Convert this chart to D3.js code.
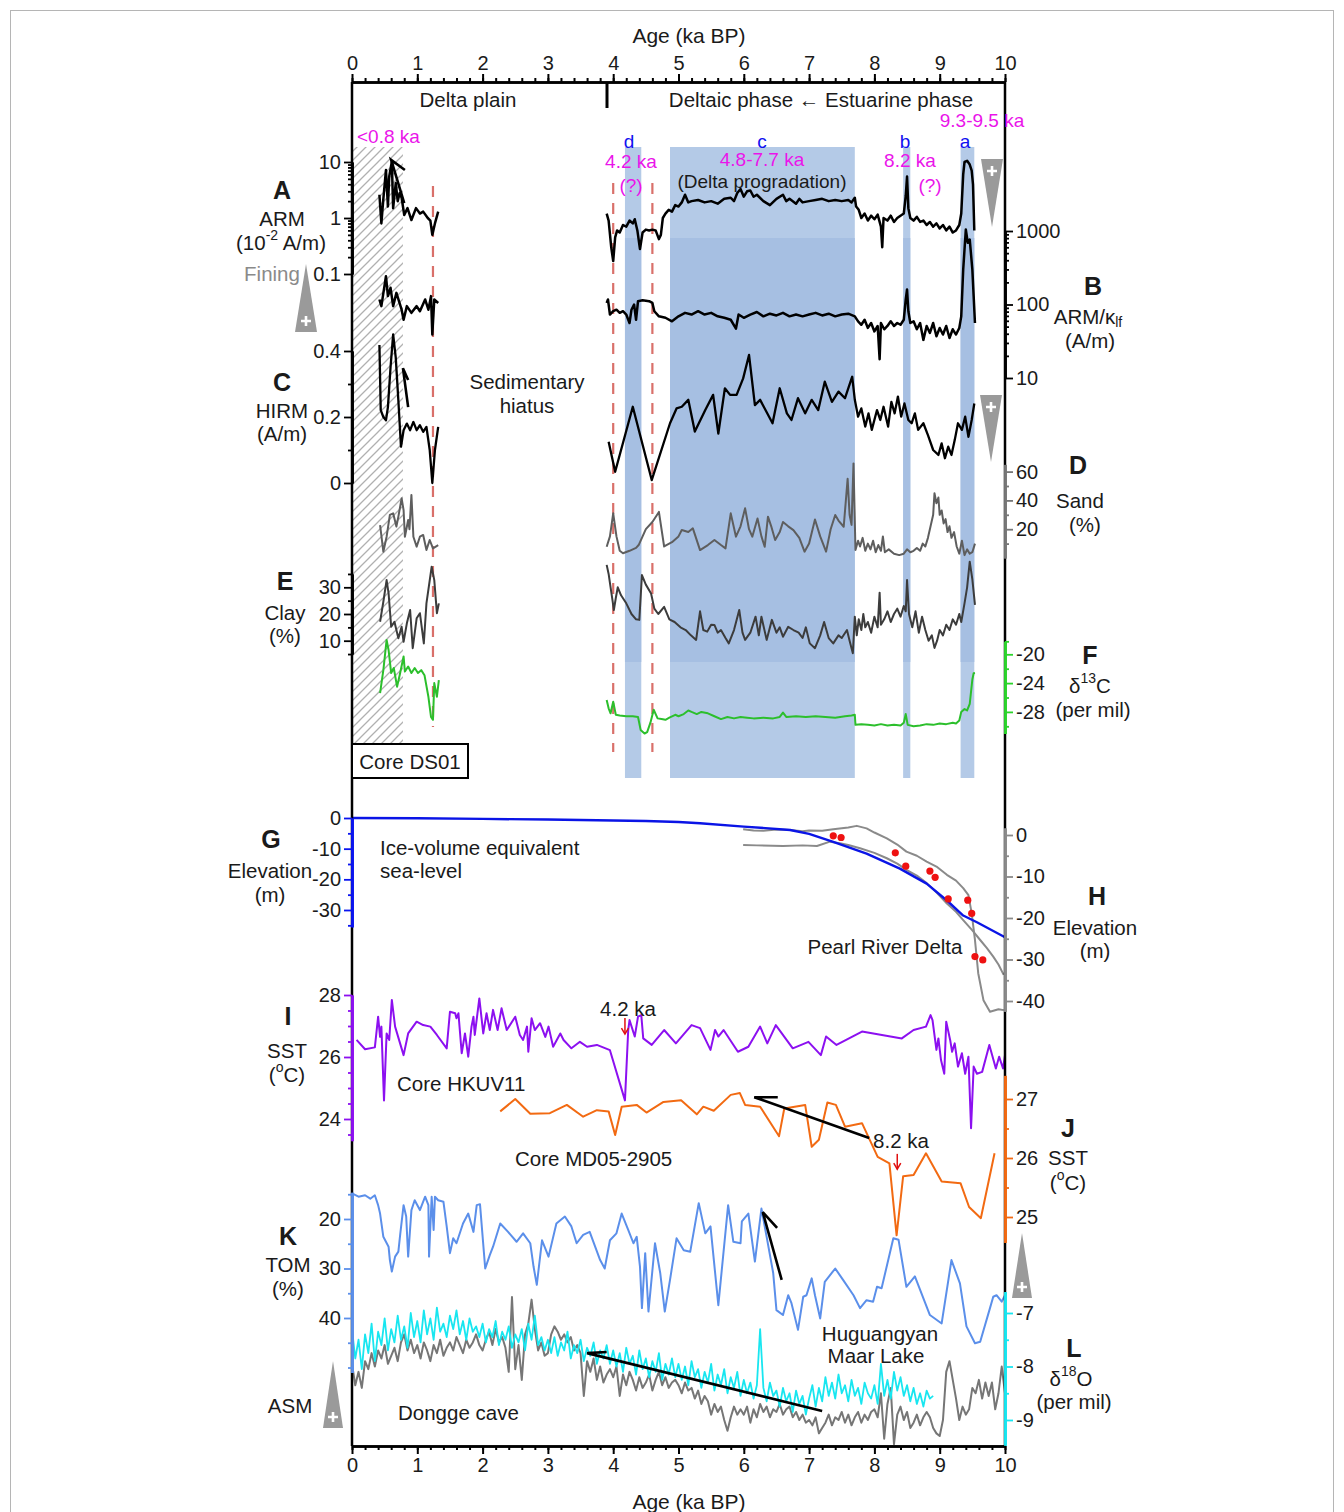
<!DOCTYPE html>
<html>
<head>
<meta charset="utf-8">
<script src="https://cdn.jsdelivr.net/npm/d3@7"></script>
<style>
  body { margin: 0; background: #fff; }
</style>
</head>
<body>
<svg id="chart" width="1344" height="1512"></svg>
<script>
// ---- data (age in ka BP, value in the panel's own unit) ----
const ageMajor = [0,1,2,3,4,5,6,7,8,9,10];

// A: ARM (10^-2 A/m), core DS01
const armTop = [[0.42,2.6],[0.45,0.8],[0.48,2.2],[0.52,7.2],[0.55,1.6],[0.57,5.5],[0.61,10.1],[0.63,1.5],[0.67,4.2],[0.7,2.0],[0.73,2.8],[0.76,2.3],[0.8,1.13],[0.85,1.5],[0.91,0.92],[0.98,1.5],[1.04,1.2],[1.09,1.3],[1.16,1.0],[1.2,0.9],[1.23,0.5],[1.27,0.8],[1.32,1.3]];
const armMain = [[3.9,1.2],[3.93,0.9],[3.97,0.3],[4.0,0.17],[4.03,0.45],[4.06,0.6],[4.1,0.55],[4.15,0.75],[4.2,0.7],[4.25,0.9],[4.3,0.8],[4.33,0.95],[4.37,0.6],[4.41,0.28],[4.45,0.55],[4.5,0.62],[4.55,0.6],[4.6,0.62],[4.65,0.6],[4.7,0.42],[4.73,0.5],[4.76,1.0],[4.8,1.2],[4.85,1.4],[4.9,1.3],[4.95,1.7],[5.0,1.6],[5.05,1.9],[5.1,2.6],[5.15,1.9],[5.2,2.0],[5.3,2.1],[5.4,1.9],[5.5,2.0],[5.6,1.8],[5.7,2.2],[5.8,2.3],[5.85,2.0],[5.9,2.8],[5.95,3.3],[6.0,2.4],[6.05,3.0],[6.1,3.1],[6.15,2.4],[6.2,2.6],[6.3,2.0],[6.4,1.7],[6.5,2.2],[6.6,2.6],[6.65,2.0],[6.7,2.2],[6.8,1.8],[6.85,2.2],[6.9,1.9],[7.0,2.0],[7.1,2.1],[7.2,2.2],[7.3,2.0],[7.4,2.1],[7.5,2.0],[7.6,2.1],[7.65,1.9],[7.7,2.3],[7.72,1.6],[7.76,1.4],[7.8,1.0],[7.85,1.2],[7.9,0.9],[7.95,1.1],[8.0,0.95],[8.05,1.15],[8.1,0.7],[8.12,0.3],[8.14,1.0],[8.2,0.9],[8.25,1.1],[8.3,0.85],[8.35,1.0],[8.4,1.1],[8.45,1.2],[8.48,2.5],[8.5,5.5],[8.52,1.5],[8.55,1.0],[8.6,0.9],[8.65,1.05],[8.7,0.85],[8.75,0.9],[8.8,0.75],[8.85,0.85],[8.9,0.7],[8.95,0.8],[9.0,0.65],[9.05,0.75],[9.1,0.6],[9.15,0.7],[9.2,0.55],[9.25,0.6],[9.3,0.75],[9.33,1.2],[9.36,6],[9.38,10],[9.42,10.5],[9.46,9],[9.49,7],[9.51,4],[9.53,0.6]];

// B: ARM/klf (A/m)
const armkTop = [[0.42,117],[0.45,95],[0.52,243],[0.55,130],[0.59,169],[0.63,95],[0.68,144],[0.76,85],[0.79,62],[0.84,95],[0.91,77],[0.99,95],[1.04,81],[1.12,117],[1.17,85],[1.21,130],[1.23,39],[1.26,117],[1.32,105]];
const armkMain = [[3.9,105],[3.92,117],[3.95,73],[4.0,81],[4.05,85],[4.1,77],[4.15,81],[4.2,73],[4.25,56],[4.28,85],[4.32,100],[4.35,62],[4.38,111],[4.45,114],[4.55,111],[4.6,105],[4.63,81],[4.7,69],[4.8,66],[4.9,59],[5.0,69],[5.1,77],[5.2,73],[5.3,81],[5.4,73],[5.5,77],[5.6,69],[5.7,66],[5.8,62],[5.88,47],[5.92,73],[6.0,66],[6.1,73],[6.2,79],[6.3,69],[6.4,75],[6.5,71],[6.6,77],[6.7,69],[6.8,73],[6.9,69],[7.0,73],[7.1,77],[7.2,71],[7.3,75],[7.4,69],[7.5,73],[7.6,75],[7.7,69],[7.75,59],[7.8,53],[7.85,62],[7.9,48],[7.95,56],[8.0,43],[8.05,51],[8.08,18],[8.1,56],[8.15,46],[8.2,51],[8.25,59],[8.3,51],[8.35,56],[8.4,53],[8.45,62],[8.48,117],[8.5,160],[8.52,81],[8.55,56],[8.6,59],[8.65,46],[8.7,56],[8.75,33],[8.8,51],[8.85,41],[8.9,56],[8.95,37],[9.0,48],[9.05,39],[9.1,51],[9.15,35],[9.2,46],[9.25,39],[9.3,48],[9.33,69],[9.36,299],[9.4,1047],[9.43,690],[9.46,767],[9.5,299],[9.52,130],[9.54,56]];

// C: HIRM (A/m)
const hirmTop = [[0.42,0.418],[0.44,0.221],[0.48,0.2],[0.52,0.19],[0.55,0.23],[0.59,0.35],[0.63,0.45],[0.67,0.38],[0.71,0.25],[0.75,0.11],[0.79,0.16],[0.84,0.18],[0.89,0.16],[0.94,0.185],[0.99,0.16],[1.04,0.175],[1.09,0.155],[1.14,0.17],[1.19,0.1],[1.23,0.0],[1.27,0.1],[1.32,0.17]];
const hirmMain = [[3.93,0.125],[4.03,0.034],[4.3,0.231],[4.59,0.009],[4.87,0.181],[4.97,0.226],[5.05,0.231],[5.15,0.252],[5.25,0.156],[5.41,0.221],[5.53,0.267],[5.61,0.15],[5.71,0.287],[5.79,0.267],[5.89,0.267],[5.99,0.317],[6.08,0.388],[6.17,0.236],[6.25,0.252],[6.32,0.226],[6.44,0.181],[6.55,0.287],[6.66,0.211],[6.73,0.191],[6.83,0.257],[6.94,0.211],[7.04,0.252],[7.14,0.221],[7.24,0.307],[7.35,0.246],[7.45,0.277],[7.55,0.257],[7.66,0.322],[7.7,0.252],[7.75,0.201],[7.8,0.226],[7.86,0.171],[7.91,0.211],[7.96,0.161],[8.04,0.221],[8.09,0.191],[8.14,0.231],[8.21,0.171],[8.26,0.246],[8.31,0.211],[8.36,0.262],[8.41,0.201],[8.46,0.241],[8.52,0.191],[8.57,0.181],[8.62,0.211],[8.67,0.161],[8.75,0.181],[8.82,0.145],[8.9,0.1],[8.98,0.085],[9.03,0.12],[9.08,0.075],[9.13,0.11],[9.18,0.085],[9.23,0.13],[9.28,0.181],[9.34,0.161],[9.39,0.201],[9.44,0.14],[9.49,0.191],[9.53,0.241]];

// D: sand (%)
const sandTop = [[0.43,22.9],[0.48,4.4],[0.53,14.8],[0.58,29.9],[0.63,31],[0.68,21.8],[0.71,28.7],[0.76,41.4],[0.79,33.3],[0.81,14.8],[0.86,26.4],[0.88,20],[0.91,43.8],[0.94,14.8],[0.99,7.9],[1.04,14.8],[1.09,16],[1.14,5.6],[1.19,12.5],[1.24,6.7],[1.32,9]];
const sandMain = [[3.9,7.8],[3.95,15],[4.0,31],[4.05,15],[4.1,5],[4.15,3.3],[4.25,5],[4.35,7],[4.39,9],[4.5,20],[4.6,25],[4.7,32],[4.78,8],[4.9,11],[5.0,15],[5.05,19.4],[5.15,18],[5.22,20.6],[5.33,5.5],[5.45,9],[5.55,12.5],[5.65,9],[5.72,6.7],[5.8,31],[5.88,14.8],[5.95,22],[6.02,34.5],[6.08,20],[6.13,14.8],[6.21,27.5],[6.27,15],[6.32,7.8],[6.37,28.7],[6.42,22],[6.48,12.5],[6.55,18],[6.6,25],[6.68,22],[6.76,19.4],[6.85,14],[6.93,4.4],[7.0,10],[7.09,26.7],[7.17,15],[7.26,4.4],[7.33,20],[7.4,29.9],[7.45,26],[7.53,21.7],[7.59,55],[7.62,30],[7.65,23],[7.68,65.7],[7.71,5.5],[7.75,12],[7.78,8],[7.82,14],[7.86,5],[7.9,10],[7.94,6],[7.98,12],[8.02,4],[8.06,9],[8.1,5],[8.13,15],[8.16,4],[8.22,6],[8.3,3],[8.38,2],[8.45,3],[8.5,6],[8.55,4],[8.6,5],[8.65,7],[8.7,5],[8.74,10],[8.78,8],[8.82,14],[8.86,22],[8.9,30],[8.92,45],[8.95,38],[8.98,42],[9.0,30],[9.03,33],[9.06,24],[9.09,27],[9.12,18],[9.15,22],[9.18,14],[9.22,18],[9.26,8],[9.3,3],[9.34,12],[9.38,2],[9.42,6],[9.46,3],[9.5,4],[9.54,10]];

// E: clay (%)
const clayTop = [[0.43,17.1],[0.48,24.6],[0.53,32.7],[0.56,27.8],[0.6,15.2],[0.65,17.1],[0.71,10.9],[0.76,15.2],[0.79,9.6],[0.84,16.5],[0.89,21.5],[0.93,7.2],[0.99,18.4],[1.04,20.3],[1.1,9],[1.14,24],[1.22,37.7],[1.26,32.7],[1.3,20.3],[1.33,24]];
const clayMain = [[3.9,38.4],[3.93,35],[3.96,30],[3.99,25],[4.01,21.5],[4.04,26],[4.07,30],[4.12,27],[4.2,24],[4.28,20],[4.35,18],[4.4,17.8],[4.44,34.6],[4.5,31],[4.58,27.7],[4.63,22],[4.69,20],[4.78,22.7],[4.86,18],[4.94,17],[5.03,15],[5.11,14],[5.19,12],[5.27,10.3],[5.33,21],[5.38,14],[5.44,13.4],[5.5,16],[5.55,15.9],[5.6,13],[5.65,14],[5.72,11],[5.77,9],[5.85,14],[5.93,21.5],[5.98,13],[6.02,10.3],[6.1,13],[6.18,19],[6.23,12],[6.27,19],[6.35,10.3],[6.43,17.8],[6.5,13],[6.55,15],[6.6,11.5],[6.68,15.2],[6.76,14],[6.84,13],[6.9,11],[6.95,15],[7.01,9],[7.09,7.2],[7.17,12],[7.23,17],[7.3,11],[7.37,9],[7.45,12],[7.5,11],[7.58,14],[7.62,10],[7.67,5.3],[7.7,19],[7.73,12],[7.76,18],[7.8,14],[7.83,20],[7.86,15],[7.9,17],[7.95,13],[8.0,19],[8.05,15],[8.08,28],[8.1,16],[8.15,18],[8.2,21],[8.25,17],[8.3,20],[8.35,22],[8.4,19],[8.45,23],[8.48,21],[8.5,32.7],[8.53,20],[8.58,15],[8.63,21],[8.68,13],[8.73,19],[8.78,14],[8.83,10],[8.88,12],[8.92,7.3],[8.96,10],[9.0,14],[9.05,12],[9.1,16],[9.15,14],[9.2,18],[9.25,16],[9.3,20],[9.33,17],[9.38,24],[9.42,30],[9.46,39.6],[9.5,33],[9.54,23.4]];

// F: d13C (per mil)
const d13cTop = [[0.43,-25.4],[0.48,-22.2],[0.53,-18.0],[0.56,-19.4],[0.6,-22.6],[0.64,-21.9],[0.69,-24.5],[0.73,-22.9],[0.79,-20.3],[0.81,-22.4],[0.86,-21.7],[0.91,-22.6],[0.96,-21.9],[1.01,-22.6],[1.06,-22.2],[1.11,-22.9],[1.17,-25.9],[1.21,-28.7],[1.24,-29.1],[1.26,-24.0],[1.3,-25.9],[1.33,-23.6]];
const d13cMain = [[3.9,-26.35],[3.93,-27.5],[3.96,-28.2],[4.0,-26.6],[4.04,-28.4],[4.1,-28.5],[4.2,-28.6],[4.3,-28.6],[4.38,-28.7],[4.42,-30.5],[4.48,-31],[4.52,-30.8],[4.57,-29.5],[4.62,-27.7],[4.68,-28.9],[4.74,-29.0],[4.8,-29.1],[4.86,-28.8],[4.95,-28.4],[5.0,-28.6],[5.08,-28.3],[5.15,-27.8],[5.2,-28.0],[5.28,-28.3],[5.35,-28.0],[5.45,-28.2],[5.55,-28.6],[5.65,-29.0],[5.75,-28.7],[5.85,-28.9],[5.95,-28.7],[6.05,-28.8],[6.15,-28.9],[6.3,-28.8],[6.45,-28.9],[6.55,-28.7],[6.6,-28.1],[6.65,-28.7],[6.8,-28.6],[6.95,-28.7],[7.1,-28.6],[7.25,-28.7],[7.4,-28.8],[7.55,-28.6],[7.65,-28.5],[7.7,-28.4],[7.71,-29.8],[7.8,-29.7],[7.9,-29.8],[8.0,-29.9],[8.1,-29.7],[8.2,-29.9],[8.3,-29.8],[8.4,-29.9],[8.45,-29.5],[8.48,-28.3],[8.51,-29.8],[8.6,-30.0],[8.7,-29.9],[8.8,-29.7],[8.9,-29.8],[9.0,-29.6],[9.1,-29.7],[9.2,-29.5],[9.25,-29.6],[9.3,-29.2],[9.33,-28.0],[9.38,-27.6],[9.42,-27.8],[9.46,-26.9],[9.5,-23.5],[9.52,-22.64],[9.54,-22.6]];

// G: ice-volume equivalent sea level (m)
const seaLevel = [[0,0],[1,-0.1],[2,-0.3],[3,-0.5],[4,-0.8],[4.5,-1.0],[5,-1.3],[5.33,-1.7],[6,-2.8],[6.71,-3.9],[7.0,-5.2],[7.37,-7.8],[7.88,-11.6],[8.39,-16.5],[8.8,-21.4],[9.11,-26.9],[9.36,-31.8],[9.57,-34],[10,-38.9]];

// H: Pearl River Delta sea-level envelope (m) and index points
const prdUpper = [[5.99,1.4],[6.15,1.1],[6.3,1.0],[6.5,1.3],[6.71,1.2],[6.9,0.9],[7.0,1.1],[7.2,1.0],[7.37,1.4],[7.6,1.8],[7.73,2.2],[7.88,1.6],[8.0,0.6],[8.19,-0.8],[8.35,-2.3],[8.49,-4],[8.65,-5.0],[8.8,-6.4],[8.95,-7.6],[9.11,-9.6],[9.25,-11.0],[9.36,-12.8],[9.44,-14.5],[9.49,-18.9],[9.54,-25.3],[9.59,-33.3],[9.67,-39.8],[9.77,-42.6],[9.9,-42.0],[9.98,-42.2]];
const prdLower = [[5.99,-2.4],[6.2,-2.5],[6.6,-2.65],[6.9,-2.5],[7.12,-2.65],[7.32,-1.6],[7.47,-2.0],[7.6,-2.4],[7.78,-3.2],[8.0,-4.3],[8.19,-5.6],[8.35,-6.9],[8.49,-8.4],[8.65,-9.8],[8.8,-11.6],[8.95,-13.8],[9.11,-16.5],[9.25,-18.5],[9.36,-20.5],[9.5,-23.0],[9.62,-25.3],[9.72,-27.2],[9.82,-29.3],[9.9,-31.2],[9.98,-33.7]];
const prdPoints = [[7.37,-0.2],[7.49,-0.6],[8.32,-4.3],[8.48,-7.5],[8.85,-8.7],[8.93,-10.2],[9.13,-15.4],[9.43,-15.7],[9.49,-18.9],[9.54,-29.3],[9.66,-30.1]];

// I: SST core HKUV11 (degC)
const sstHKUV = [[0.07,26.55],[0.2,26.25],[0.35,26.31],[0.4,27.3],[0.43,26.65],[0.45,26.98],[0.49,24.6],[0.53,26.76],[0.57,26.55],[0.61,27.84],[0.66,26.98],[0.79,26.06],[0.86,26.76],[0.99,27.14],[1.09,27.03],[1.2,26.98],[1.3,26.71],[1.45,26.28],[1.5,27.46],[1.58,27.41],[1.6,27.25],[1.63,27.41],[1.68,26.12],[1.73,26.76],[1.78,26.01],[1.83,26.98],[1.86,27.3],[1.88,26.71],[1.95,27.89],[2.01,26.76],[2.06,27.41],[2.11,26.87],[2.16,27.52],[2.23,26.87],[2.29,27.57],[2.37,26.87],[2.5,27.3],[2.57,26.71],[2.62,26.55],[2.68,26.98],[2.7,26.17],[2.75,27.25],[2.8,26.87],[2.88,27.09],[2.96,26.65],[3.01,26.98],[3.08,26.33],[3.19,26.76],[3.24,26.55],[3.36,26.28],[3.49,26.49],[3.6,26.33],[3.75,26.39],[3.95,26.22],[4.18,24.6],[4.23,26.87],[4.25,27.19],[4.33,26.66],[4.38,27.3],[4.43,27.35],[4.46,26.6],[4.59,26.39],[4.78,26.87],[4.96,26.44],[5.2,27.03],[5.33,26.93],[5.49,26.23],[5.56,26.87],[5.61,26.66],[5.69,26.87],[5.91,26.17],[6.07,26.33],[6.25,26.98],[6.36,26.44],[6.49,27.03],[6.75,26.28],[6.99,26.49],[7.18,26.06],[7.26,26.66],[7.42,26.39],[7.81,26.82],[8.42,26.6],[8.6,26.87],[8.79,26.98],[8.86,27.35],[8.89,27.19],[8.95,26.23],[8.98,26.6],[9.02,25.9],[9.07,25.46],[9.1,27.14],[9.16,26.55],[9.19,26.17],[9.23,26.44],[9.28,25.69],[9.34,26.12],[9.39,25.46],[9.44,26.01],[9.48,23.7],[9.52,25.69],[9.57,25.46],[9.65,25.52],[9.76,26.39],[9.86,25.63],[9.91,26.01],[9.97,25.63],[10.0,26.06],[10.0,24.4]];

// J: SST core MD05-2905 (degC)
const sstMD05 = [[2.27,26.79],[2.5,27.0],[2.73,26.75],[3.03,26.76],[3.29,26.9],[3.54,26.7],[3.75,26.81],[3.93,26.79],[4.03,26.39],[4.13,26.87],[4.36,26.9],[4.51,26.77],[4.77,26.95],[5.04,26.98],[5.28,26.74],[5.38,26.87],[5.54,26.8],[5.8,27.07],[5.94,27.1],[6.02,26.9],[6.25,26.87],[6.54,26.37],[6.62,26.84],[6.94,26.9],[7.04,26.19],[7.15,26.31],[7.28,26.94],[7.41,26.9],[7.55,26.53],[7.81,26.59],[8.05,26.02],[8.23,25.91],[8.34,24.69],[8.44,25.69],[8.6,25.71],[8.79,26.08],[9.03,25.6],[9.32,25.57],[9.45,25.17],[9.63,24.98],[9.84,26.08]];

// K: TOM (%) Huguangyan Maar Lake
const tom = [[0,14.8],[0.1,15.5],[0.2,15.2],[0.28,15.9],[0.35,15.2],[0.4,17.2],[0.43,18.9],[0.48,23.6],[0.56,25.6],[0.58,28.3],[0.61,30.6],[0.66,27.6],[0.71,26.6],[0.74,22.9],[0.79,17.2],[0.83,19.5],[0.86,27.6],[0.91,18.2],[0.96,16.2],[1.04,18.2],[1.12,15.5],[1.17,17.2],[1.18,27.6],[1.22,15.5],[1.25,22.2],[1.27,15.5],[1.32,16.2],[1.4,16.5],[1.45,21.5],[1.5,26.9],[1.55,23.9],[1.6,24.9],[1.7,20.9],[1.78,18.9],[1.86,22.6],[1.91,17.2],[1.96,17],[2.04,30],[2.11,27.3],[2.16,25.6],[2.27,20.9],[2.39,22.6],[2.52,24.6],[2.62,22.9],[2.73,24.9],[2.78,29.6],[2.83,33.3],[2.91,24.3],[3.01,27.6],[3.13,20.9],[3.26,19.5],[3.36,21.5],[3.44,24.9],[3.54,23.2],[3.64,22.6],[3.8,28.3],[3.87,30],[3.95,24.3],[4.05,22.9],[4.13,18.9],[4.23,22.2],[4.31,24.9],[4.36,23.6],[4.41,29.6],[4.44,38],[4.49,26.9],[4.54,38.7],[4.64,24.9],[4.72,30.9],[4.79,38.7],[4.87,32.3],[4.97,23.9],[5.08,26.3],[5.18,26.6],[5.31,16.8],[5.41,22.9],[5.49,21.5],[5.61,37.4],[5.76,17.2],[5.84,24.6],[5.95,24.9],[5.97,20.5],[6.07,18.9],[6.17,28.6],[6.27,17.9],[6.35,23.6],[6.45,30.9],[6.5,38.4],[6.6,39.4],[6.68,35.4],[6.73,37.0],[6.83,42.4],[6.91,35.7],[6.96,35.4],[7.04,32],[7.09,35.4],[7.17,40.1],[7.24,32.7],[7.4,30],[7.52,32.3],[7.68,35.4],[7.78,38],[7.88,36.4],[7.98,36.7],[8.04,33.7],[8.11,34],[8.29,23.9],[8.37,24.2],[8.49,33.7],[8.62,31.6],[8.85,39.4],[9.03,41.1],[9.18,28.3],[9.31,33],[9.41,41.7],[9.54,45.1],[9.62,44.8],[9.77,38],[9.82,35.7],[9.87,35.4],[9.95,36.7],[10.0,35.4]];

// L: d18O (per mil), evenly spaced records
const cyanStart = 0, cyanStep = 0.05;
const d18oCyan = [
  -7.30,-7.85,-7.50,-8.05,-7.40,-7.75,-7.20,-7.90,-7.35,-7.60,-7.10,-7.70,-7.30,-7.55,-7.05,-7.50,-7.25,-7.65,-7.00,-7.45,
  -7.15,-7.55,-6.95,-7.40,-7.10,-7.50,-6.90,-7.35,-7.20,-7.45,-7.05,-7.30,-6.95,-7.40,-7.15,-7.50,-7.10,-7.35,-7.25,-7.45,
  -7.20,-7.55,-7.30,-7.45,-7.15,-7.60,-7.35,-7.50,-7.25,-7.65,-7.40,-7.55,-7.30,-7.70,-7.20,-7.50,-7.05,-7.60,-7.45,-7.70,
  -7.50,-7.75,-7.45,-7.80,-7.55,-7.70,-7.35,-7.85,-7.60,-7.75,-7.50,-7.90,-7.65,-7.80,-7.55,-7.95,-7.70,-7.85,-7.60,-7.95,
  -7.70,-8.00,-7.75,-8.10,-7.65,-7.95,-7.80,-8.15,-7.70,-8.05,-7.85,-8.20,-7.90,-8.10,-7.75,-8.25,-7.95,-8.15,-7.85,-8.20,
  -7.95,-8.25,-8.00,-8.35,-7.90,-8.20,-8.05,-8.40,-8.10,-8.30,-7.95,-8.45,-8.15,-8.35,-8.05,-8.50,-8.20,-8.40,-8.10,-8.55,
  -8.25,-8.50,-8.30,-8.60,-8.35,-7.30,-8.40,-8.65,-8.30,-8.55,-8.45,-8.75,-8.40,-8.65,-8.50,-8.85,-8.45,-8.70,-8.55,-8.90,
  -8.60,-8.35,-8.75,-8.40,-8.65,-8.20,-8.55,-8.30,-8.60,-8.15,-8.50,-8.35,-8.65,-8.25,-8.55,-8.40,-8.70,-8.30,-8.50,-8.60,
  -8.35,-8.70,-7.95,-8.55,-8.25,-8.60,-8.10,-8.45,-8.20,-8.55,-8.35,-8.65,-8.40,-8.70,-8.50,-8.75,-8.45,-8.60,-8.55
];
const donggeStart = 0, donggeStep = 0.05;
const d18oDongge = [
  -7.95,-8.35,-8.10,-8.40,-7.90,-8.05,-7.75,-8.00,-7.70,-7.85,-7.60,-7.95,-7.80,-7.65,-7.90,-7.55,-7.40,-7.70,-7.50,-7.75,
  -7.60,-7.85,-7.55,-7.70,-7.90,-7.60,-7.75,-7.50,-7.80,-7.65,-7.55,-7.70,-7.45,-7.60,-7.75,-7.50,-7.65,-7.55,-7.40,-7.60,
  -7.70,-7.50,-7.35,-7.60,-7.30,-7.55,-7.45,-7.65,-8.10,-6.70,-8.05,-7.60,-8.25,-7.40,-7.20,-6.75,-7.30,-7.70,-7.55,-7.80,
  -7.75,-7.40,-7.25,-7.35,-7.50,-7.40,-7.55,-7.45,-7.70,-7.60,-7.75,-8.55,-7.90,-8.10,-7.85,-8.25,-8.00,-8.30,-8.15,-8.05,
  -8.20,-8.00,-8.55,-8.15,-8.35,-8.10,-8.25,-8.45,-8.20,-8.40,-8.30,-8.15,-8.45,-8.25,-8.10,-8.35,-8.20,-8.40,-8.30,-8.25,
  -8.35,-8.50,-8.30,-8.45,-8.40,-8.60,-8.45,-8.70,-8.55,-8.65,-8.90,-8.70,-8.85,-8.75,-9.00,-9.20,-8.95,-8.75,-8.90,-8.80,
  -8.90,-8.75,-9.05,-8.80,-8.95,-8.70,-8.85,-8.75,-8.95,-8.80,-8.85,-8.70,-8.90,-8.80,-8.75,-8.95,-8.85,-9.00,-8.90,-9.05,
  -9.00,-9.10,-8.95,-9.25,-9.15,-9.05,-8.90,-9.10,-8.95,-9.00,-8.85,-9.05,-8.90,-9.10,-8.95,-8.85,-9.05,-8.90,-9.00,-8.85,
  -8.80,-8.95,-8.50,-9.35,-8.70,-8.40,-9.45,-8.90,-8.75,-9.00,-8.85,-9.15,-9.05,-8.90,-9.10,-8.95,-8.85,-8.95,-9.15,-9.25,
  -9.30,-9.00,-8.10,-7.90,-8.25,-8.60,-9.00,-8.75,-8.90,-8.80,-8.40,-8.50,-8.25,-8.60,-8.30,-8.55,-8.30,-8.80,-8.50,-8.00,
  -8.50
];

// shaded event intervals (ka) and their labels
const bandSpans = [[4.18,4.43],[4.87,7.70],[8.44,8.55],[9.32,9.53]];
const bandLetters = ['d','c','b','a'];
const dashedAges = [1.24, 4.0, 4.6];

// ---- drawing ----
const FONT = '"Liberation Sans", Arial, Helvetica, sans-serif';
const TXT = 20.5, TICK = 20, LETTER = 25, NOTE = 19;
const svg = d3.select('#chart').attr('font-family', FONT);

const x = d3.scaleLinear().domain([0, 10]).range([352, 1005]);
const yA = d3.scaleLog().domain([0.1, 10]).range([274, 162]);
const yB = d3.scaleLog().domain([10, 1000]).range([378, 231]);
const yC = d3.scaleLinear().domain([0, 0.4]).range([483, 351]);
const yD = d3.scaleLinear().domain([0, 60]).range([558, 471.6]);
const yE = d3.scaleLinear().domain([0, 30]).range([667.4, 587.3]);
const yF = d3.scaleLinear().domain([-28, -20]).range([711.9, 654.3]);
const yG = d3.scaleLinear().domain([-30, 0]).range([910, 818]);
const yH = d3.scaleLinear().domain([-40, 0]).range([1001, 835]);
const yI = d3.scaleLinear().domain([24, 28]).range([1119, 995]);
const yJ = d3.scaleLinear().domain([25, 27]).range([1217, 1099]);
const yK = d3.scaleLinear().domain([20, 40]).range([1219, 1318]);
const yL = d3.scaleLinear().domain([-9, -7]).range([1420, 1313]);

const TOP = 82, BOTTOM = 1446;

// outer figure frame
svg.append('rect').attr('x', 10.5).attr('y', 10.5).attr('width', 1323).attr('height', 1510)
  .attr('fill', 'none').attr('stroke', '#b5b5b5').attr('stroke-width', 1);

// hatch pattern for the <0.8 ka interval
const defs = svg.append('defs');
const pat = defs.append('pattern').attr('id', 'hatch').attr('patternUnits', 'userSpaceOnUse')
  .attr('width', 9).attr('height', 9);
pat.append('path').attr('d', 'M0,9 L9,0 M-2,2 L2,-2 M7,11 L11,7')
  .attr('stroke', '#b0b0b0').attr('stroke-width', 1.3);

// shaded bands (lighter full height, slightly darker middle)
bandSpans.forEach(b => {
  svg.append('rect').attr('x', x(b[0])).attr('width', x(b[1]) - x(b[0]))
    .attr('y', 147).attr('height', 778 - 147).attr('fill', '#b4cae7');
  svg.append('rect').attr('x', x(b[0])).attr('width', x(b[1]) - x(b[0]))
    .attr('y', 238).attr('height', 662 - 238).attr('fill', '#a6bfe2');
});

svg.append('rect').attr('x', x(0)).attr('y', 147).attr('width', x(0.78) - x(0)).attr('height', 744 - 147)
  .attr('fill', 'url(#hatch)');

// red dashed marker lines
dashedAges.forEach((a, i) => {
  svg.append('line').attr('x1', x(a)).attr('x2', x(a))
    .attr('y1', i === 0 ? 186 : 183).attr('y2', i === 0 ? 727 : 752)
    .attr('stroke', '#d9706a').attr('stroke-width', 2.2).attr('stroke-dasharray', '11,9');
});

function drawSeries(data, scale, color, width) {
  svg.append('path').datum(data)
    .attr('d', d3.line().x(d => x(d[0])).y(d => scale(d[1])))
    .attr('fill', 'none').attr('stroke', color).attr('stroke-width', width)
    .attr('stroke-linejoin', 'round');
}
const evenly = (start, step, vals) => vals.map((v, i) => [start + i * step, v]);

drawSeries(armTop, yA, '#000', 2.5);
drawSeries(armMain, yA, '#000', 2.5);
drawSeries(armkTop, yB, '#000', 2.5);
drawSeries(armkMain, yB, '#000', 2.5);
drawSeries(hirmTop, yC, '#000', 2.3);
drawSeries(hirmMain, yC, '#000', 2.3);
drawSeries(sandTop, yD, '#5e5e5e', 2);
drawSeries(sandMain, yD, '#5e5e5e', 2);
drawSeries(clayTop, yE, '#3c3c3c', 2);
drawSeries(clayMain, yE, '#3c3c3c', 2);
drawSeries(d13cTop, yF, '#2cbf2c', 2);
drawSeries(d13cMain, yF, '#2cbf2c', 2);

drawSeries(prdUpper, yH, '#8a8a8a', 2);
drawSeries(prdLower, yH, '#8a8a8a', 2);
drawSeries(seaLevel, yG, '#0a14e6', 2.4);
svg.selectAll('circle.prd').data(prdPoints).enter().append('circle')
  .attr('cx', d => x(d[0])).attr('cy', d => yH(d[1])).attr('r', 3.6).attr('fill', '#ee1111');

drawSeries(sstHKUV, yI, '#8c10f0', 2);
drawSeries(sstMD05, yJ, '#f26a12', 2);
drawSeries(tom, yK, '#5b8fea', 2);
drawSeries(evenly(donggeStart, donggeStep, d18oDongge), yL, '#767676', 2);
drawSeries(evenly(cyanStart, cyanStep, d18oCyan), yL, '#18e6f0', 1.8);

// main frame lines
svg.append('line').attr('x1', 352).attr('x2', 352).attr('y1', TOP).attr('y2', BOTTOM)
  .attr('stroke', '#000').attr('stroke-width', 2.5);
svg.append('line').attr('x1', 1005).attr('x2', 1005).attr('y1', TOP).attr('y2', BOTTOM)
  .attr('stroke', '#000').attr('stroke-width', 2.5);

// age axes
const ageMinor = d3.range(0, 10.001, 0.2);
function ageAxis(maker, yPos) {
  const gm = svg.append('g').attr('transform', `translate(0,${yPos})`)
    .call(maker(x).tickValues(ageMinor).tickSize(4).tickSizeOuter(0).tickFormat(''));
  const g = svg.append('g').attr('transform', `translate(0,${yPos})`)
    .call(maker(x).tickValues(ageMajor).tickSize(8).tickSizeOuter(0).tickPadding(4).tickFormat(d => String(d)));
  [gm, g].forEach(s => {
    s.attr('font-size', TICK).attr('font-family', FONT).attr('color', '#000');
    s.select('.domain').attr('stroke-width', 2.5);
    s.selectAll('.tick line').attr('stroke-width', 2);
    s.selectAll('.tick text').attr('fill', '#1a1a1a');
  });
}
ageAxis(d3.axisTop, TOP);
ageAxis(d3.axisBottom, BOTTOM);

// panel axes
function sideAxis(side, scale, lo, hi, major, minor, color) {
  const s = scale.copy().domain([lo, hi]).range([scale(lo), scale(hi)]);
  const make = side === 'left' ? d3.axisLeft : d3.axisRight;
  const xPos = side === 'left' ? 352 : 1005;
  const gm = svg.append('g').attr('transform', `translate(${xPos},0)`)
    .call(make(s).tickValues(minor).tickSize(4).tickSizeOuter(0).tickFormat(''));
  const g = svg.append('g').attr('transform', `translate(${xPos},0)`)
    .call(make(s).tickValues(major).tickSize(8).tickSizeOuter(0).tickPadding(3).tickFormat(d => String(d)));
  [gm, g].forEach(a => {
    a.attr('color', color).attr('font-size', TICK).attr('font-family', FONT);
    a.select('.domain').attr('stroke-width', 2.6);
    a.selectAll('.tick line').attr('stroke-width', 1.8);
    a.selectAll('.tick text').attr('fill', '#1a1a1a');
  });
}
sideAxis('left', yA, 0.1, 10, [0.1, 1, 10], [0.2,0.3,0.4,0.5,0.6,0.7,0.8,0.9,2,3,4,5,6,7,8,9], '#000');
sideAxis('right', yB, 10, 1000, [10, 100, 1000], [20,30,40,50,60,70,80,90,200,300,400,500,600,700,800,900], '#000');
sideAxis('left', yC, 0, 0.4, [0, 0.2, 0.4], [0.1, 0.3], '#000');
sideAxis('right', yD, 0, 65, [20, 40, 60], [10, 30, 50], '#777');
sideAxis('left', yE, 5, 35, [10, 20, 30], [5, 15, 25, 35], '#000');
sideAxis('right', yF, -31, -18.2, [-28, -24, -20], [-30, -26, -22, -18.2], '#2cd42c');
sideAxis('left', yG, -35.5, 0, [-30, -20, -10, 0], [-35, -25, -15, -5], '#0a14f0');
sideAxis('right', yH, -42.5, 1.7, [-40, -30, -20, -10, 0], [-35, -25, -15, -5], '#8a8a8a');
sideAxis('left', yI, 23.3, 28, [24, 26, 28], [23.5, 24.5, 25, 25.5, 26.5, 27, 27.5], '#8c10f0');
sideAxis('right', yJ, 24.57, 27.4, [25, 26, 27], [25.5, 26.5], '#f26a12');
sideAxis('left', yK, 14.6, 51, [20, 30, 40], [15, 25, 35, 45, 50], '#5b8fea');
sideAxis('right', yL, -9.47, -6.6, [-9, -8, -7], [-8.5, -7.5], '#18e6f0');

// thick phase boundary tick
svg.append('line').attr('x1', 607).attr('x2', 607).attr('y1', TOP).attr('y2', 108)
  .attr('stroke', '#000').attr('stroke-width', 3);

// core box
svg.append('rect').attr('x', 352).attr('y', 744).attr('width', 116).attr('height', 34)
  .attr('fill', '#fff').attr('stroke', '#000').attr('stroke-width', 2);

// text helper
function txt(xp, yp, s, o = {}) {
  const t = svg.append('text').attr('x', xp).attr('y', yp)
    .attr('dominant-baseline', 'central')
    .attr('text-anchor', o.anchor || 'middle')
    .attr('font-size', o.size || TXT)
    .attr('font-weight', o.bold ? 'bold' : 'normal')
    .attr('fill', o.color || '#1a1a1a');
  if (Array.isArray(s)) {
    s.forEach(p => {
      const ts = t.append('tspan').text(p.t);
      if (p.sup) ts.attr('dy', -7).attr('font-size', 14);
      if (p.sub) ts.attr('dy', 6).attr('font-size', 14);
      if (p.back) ts.attr('dy', p.back);
    });
  } else t.text(s);
  return t;
}
const MAG = '#ea14ea', BLUE = '#1010f0';

txt(689, 35, 'Age (ka BP)', { size: 21 });
txt(689, 1501, 'Age (ka BP)', { size: 21 });
txt(468, 99, 'Delta plain');
txt(821, 99, 'Deltaic phase \u2190 Estuarine phase');

// event annotations above the bands
txt(357, 136, '<0.8 ka', { anchor: 'start', color: MAG, size: NOTE });
txt(982, 120, '9.3-9.5 ka', { color: MAG, size: NOTE });
const letterX = [629, 762, 905, 965];
bandLetters.forEach((l, i) => txt(letterX[i], 141, l, { color: BLUE, size: NOTE }));
txt(631, 161, '4.2 ka', { color: MAG, size: NOTE });
txt(631, 185, '(?)', { color: MAG, size: NOTE });
txt(762, 159, '4.8-7.7 ka', { color: MAG, size: NOTE });
txt(762, 181, '(Delta progradation)', { size: NOTE });
txt(910, 160, '8.2 ka', { color: MAG, size: NOTE });
txt(930, 185, '(?)', { color: MAG, size: NOTE });

txt(527, 381, 'Sedimentary');
txt(527, 405, 'hiatus');
txt(410, 761, 'Core DS01');

// left labels
txt(282, 190, 'A', { bold: true, size: LETTER });
txt(282, 218, 'ARM');
txt(281, 242, [{ t: '(10' }, { t: '-2', sup: true }, { t: ' A/m)', back: 7 }]);
txt(272, 273, 'Fining', { color: '#8a8a8a' });
txt(282, 382, 'C', { bold: true, size: LETTER });
txt(282, 410, 'HIRM');
txt(282, 433, '(A/m)');
txt(285, 581, 'E', { bold: true, size: LETTER });
txt(285, 612, 'Clay');
txt(285, 635, '(%)');
txt(271, 839, 'G', { bold: true, size: LETTER });
txt(270, 870, 'Elevation');
txt(270, 894, '(m)');
txt(288, 1016, 'I', { bold: true, size: LETTER });
txt(287, 1050, 'SST');
txt(287, 1074, [{ t: '(' }, { t: 'o', sup: true }, { t: 'C)', back: 7 }]);
txt(288, 1236, 'K', { bold: true, size: LETTER });
txt(288, 1264, 'TOM');
txt(288, 1288, '(%)');
txt(290, 1405, 'ASM');

// right labels
txt(1093, 286, 'B', { bold: true, size: LETTER });
txt(1088, 316, [{ t: 'ARM/\u03ba' }, { t: 'lf', sub: true }]);
txt(1090, 340, '(A/m)');
txt(1078, 465, 'D', { bold: true, size: LETTER });
txt(1080, 500, 'Sand');
txt(1085, 524, '(%)');
txt(1090, 655, 'F', { bold: true, size: LETTER });
txt(1090, 685, [{ t: '\u03b4' }, { t: '13', sup: true }, { t: 'C', back: 7 }]);
txt(1093, 709, '(per mil)');
txt(1097, 896, 'H', { bold: true, size: LETTER });
txt(1095, 927, 'Elevation');
txt(1095, 950, '(m)');
txt(1068, 1128, 'J', { bold: true, size: LETTER });
txt(1068, 1157, 'SST');
txt(1068, 1182, [{ t: '(' }, { t: 'o', sup: true }, { t: 'C)', back: 7 }]);
txt(1074, 1348, 'L', { bold: true, size: LETTER });
txt(1071, 1378, [{ t: '\u03b4' }, { t: '18', sup: true }, { t: 'O', back: 7 }]);
txt(1074, 1401, '(per mil)');

// in-plot annotations
txt(380, 847, 'Ice-volume equivalent', { anchor: 'start' });
txt(380, 870, 'sea-level', { anchor: 'start' });
txt(885, 946, 'Pearl River Delta');
txt(397, 1083, 'Core HKUV11', { anchor: 'start' });
txt(628, 1008, '4.2 ka');
txt(515, 1158, 'Core MD05-2905', { anchor: 'start' });
txt(901, 1140, '8.2 ka');
txt(880, 1333, 'Huguangyan');
txt(876, 1355, 'Maar Lake');
txt(398, 1412, 'Dongge cave', { anchor: 'start' });

// black trend arrows: [tail, tip, barb] in data units of each panel
const trendArrows = [
  { s: yA, p: [[0.8, 1.85], [0.6, 10.9], [0.81, 7.2]] },
  { s: yC, p: [[0.86, 0.23], [0.78, 0.348], [0.86, 0.312]] },
  { s: yJ, p: [[7.92, 26.34], [6.16, 27.03], [6.52, 27.03]] },
  { s: yK, p: [[6.58, 32.3], [6.29, 18.6], [6.51, 21.8]] },
  { s: yL, p: [[7.2, -8.83], [3.6, -7.75], [3.9, -7.73]] }
];
trendArrows.forEach(a => {
  const pts = a.p.map(d => [x(d[0]), a.s(d[1])]);
  svg.append('path').attr('d', `M${pts[0]}L${pts[1]}L${pts[2]}`)
    .attr('fill', 'none').attr('stroke', '#000').attr('stroke-width', 2.6);
});

// small red event arrows
const redArrows = [{ s: yI, a: 4.18, v: [27.26, 26.74] }, { s: yJ, a: 8.35, v: [26.07, 25.81] }];
redArrows.forEach(r => {
  const xa = x(r.a), y1 = r.s(r.v[0]), y2 = r.s(r.v[1]);
  svg.append('line').attr('x1', xa).attr('x2', xa).attr('y1', y1).attr('y2', y2)
    .attr('stroke', '#e01010').attr('stroke-width', 1.5);
  svg.append('path').attr('d', `M${xa - 3.5},${y2 - 6}L${xa},${y2}L${xa + 3.5},${y2 - 6}`)
    .attr('fill', 'none').attr('stroke', '#e01010').attr('stroke-width', 1.5);
});

// grey triangles with plus signs
function triangle(cx, yTop, yBot, halfW, down) {
  const pts = down
    ? [[cx - halfW, yTop], [cx + halfW, yTop], [cx, yBot]]
    : [[cx, yTop], [cx - halfW, yBot], [cx + halfW, yBot]];
  svg.append('polygon').attr('points', pts.map(p => p.join(',')).join(' ')).attr('fill', '#9a9a9a');
  const py = down ? yTop + 12 : yBot - 11;
  svg.append('path').attr('d', `M${cx - 5},${py}H${cx + 5}M${cx},${py - 5}V${py + 5}`)
    .attr('stroke', '#fff').attr('stroke-width', 2.6);
}
triangle(992, 159, 227, 11, true);
triangle(991, 395, 462, 11, true);
triangle(306, 264, 332, 11, false);
triangle(1022, 1233, 1298, 10, false);
triangle(333, 1361, 1428, 10, false);
</script>
</body>
</html>
